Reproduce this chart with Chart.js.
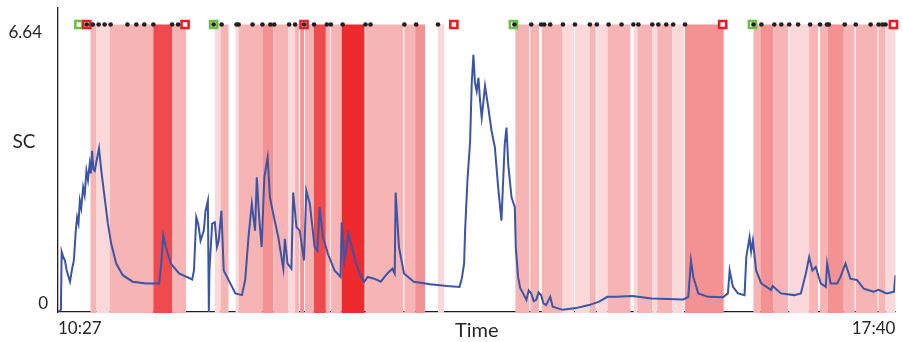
<!DOCTYPE html>
<html lang="en">

<head>
    <meta charset="UTF-8">
    <title>SC over time</title>
    <script src="https://cdn.jsdelivr.net/npm/chart.js"></script>
    <style>
        html, body {
            margin: 0;
            padding: 0;
            background: #fff;
        }

        #chart-box {
            width: 903px;
            height: 342px;
        }
    </style>
</head>

<body>
    <div id="chart-box"><canvas id="sc-chart"></canvas></div>

    <script>
        // minutes since 10:27 and the SC value
        const times = [0.2, 1.5, 1.9, 2.7, 3.6, 4.5, 6.2, 7.3, 8.2, 9.2, 9.9, 10.6, 11.3, 12.0, 13.0, 13.8, 14.7, 15.5, 16.4, 17.0, 17.6, 18.3, 19.0, 20.2, 21.2, 22.4,
            24.1, 25.8, 27.5, 30.1, 33.5, 38.6, 45.5, 52.3, 53.4, 54.4, 55.8, 58.3, 62.6, 69.4, 70.3, 71.5, 72.5, 73.7, 75.4, 76.3, 77.5, 78.0, 78.3,
            79.7, 81.1, 82.2, 83.1, 84.5, 85.7, 88.2, 91.7, 95.1, 96.8, 98.5, 100.2, 101.9, 102.8, 104.0, 105.3, 106.7, 108.4, 109.6, 111.3, 113.9,
            116.5, 117.3, 118.7, 120.7, 121.6, 123.3, 125.0, 127.2, 128.4, 130.2, 132.7, 134.1, 135.3, 137.0, 139.5, 143.0, 146.1, 146.7, 148.1,
            150.2, 151.5, 154.1, 156.6, 158.4, 160.1, 163.5, 166.9, 170.3, 172.9, 174.1, 174.6, 176.3, 178.9, 184.0, 192.5, 201.1, 207.6, 208.8,
            210.0, 210.5, 211.7, 213.1, 213.9, 214.8, 215.6, 216.5, 217.4, 218.2, 219.1, 220.8, 222.5, 224.2, 225.9, 227.6, 229.3, 231.0, 231.9,
            232.8, 234.5, 236.2, 236.7, 237.9, 239.0, 240.5, 242.2, 243.4, 244.7, 246.0, 247.3, 248.5, 249.8, 251.0, 252.4, 254.5, 255.8, 261.0,
            267.8, 274.6, 279.8, 284.1, 288.3, 296.9, 307.1, 323.4, 325.9, 327.3, 328.5, 331.1, 336.2, 343.9, 346.4, 347.3, 349.0, 351.6, 355.0,
            355.9, 357.6, 358.4, 359.3, 361.0, 363.6, 368.7, 369.5, 373.8, 380.7, 384.1, 386.7, 388.4, 390.1, 391.8, 394.4, 397.0, 397.7, 399.5,
            402.9, 404.6, 407.2, 409.7, 413.1, 416.6, 421.7, 424.3, 428.5, 432.3, 433.0];
        const sc = [0.01, 0.05, 1.39, 1.27, 1.19, 0.96, 0.70, 1.00, 1.19, 1.88, 2.19, 2.05, 2.57, 2.40, 2.88, 2.70, 3.26, 3.05, 3.42, 3.20, 3.72, 3.30, 3.26, 3.55, 3.78, 3.26,
            2.65, 2.04, 1.58, 1.12, 0.85, 0.70, 0.66, 0.66, 1.12, 1.77, 1.50, 1.12, 0.89, 0.75, 0.96, 2.19, 2.04, 1.65, 1.88, 2.34, 2.57, 0.00, 0.96,
            2.04, 2.07, 1.50, 1.65, 2.34, 0.96, 0.74, 0.43, 0.39, 0.74, 1.73, 2.50, 1.88, 3.11, 2.19, 1.50, 3.11, 3.57, 2.65, 2.27, 1.73,
            1.00, 1.69, 1.12, 1.00, 2.76, 1.96, 1.88, 1.19, 2.80, 2.50, 1.50, 1.42, 2.42, 1.73, 1.35, 0.96, 0.81, 2.07, 1.19,
            1.81, 1.58, 1.12, 0.81, 0.70, 0.81, 0.77, 0.70, 0.89, 1.00, 0.89, 2.76, 1.50, 0.89, 0.70, 0.64, 0.60, 0.58, 0.77,
            1.12, 1.88, 3.03, 3.95, 5.25, 5.94, 5.30, 5.10, 5.41, 4.90, 4.49, 5.22, 4.72, 4.18, 3.80, 2.88, 2.11, 3.88, 4.26,
            3.42, 2.65, 2.42, 1.50, 0.81, 0.55, 0.43, 0.28, 0.50, 0.43, 0.25, 0.28, 0.45, 0.39, 0.20, 0.16, 0.35, 0.12, 0.05,
            0.09, 0.16, 0.24, 0.35, 0.35, 0.37, 0.31, 0.29, 0.35, 1.19, 0.81, 0.43, 0.35, 0.34, 0.43, 0.96, 0.58, 0.43, 0.39,
            1.27, 1.73, 1.40, 1.65, 0.96, 0.66, 0.51, 0.60, 0.43, 0.39, 0.43, 0.89, 1.27, 0.96, 1.04, 0.66, 0.58, 1.12, 0.66,
            0.66, 0.81, 1.12, 0.77, 0.74, 0.54, 0.47, 0.51, 0.43, 0.47, 0.85];

        // shaded episodes: start, end (minutes) and intensity level 1..5
        const bandStart = [16.8, 19.9, 26.7, 49.3, 59.0, 81.1, 84.1, 91.8, 93.4, 105.7, 111.3, 119.0, 122.6, 125.2, 127.7, 132.3, 138.5, 141.1, 146.7,
            159.0, 179.1, 184.7, 196.5, 236.5, 244.2, 250.1, 260.6, 267.3, 275.0, 278.6, 284.2, 297.6, 299.6, 307.3, 309.9, 317.6, 324.2,
            359.6, 363.2, 369.9, 378.1, 388.4, 394.0, 398.1, 406.3, 412.5, 424.3, 427.9];
        const bandEnd = [19.9, 26.7, 49.3, 59.0, 66.2, 84.1, 88.2, 93.4, 105.7, 111.3, 119.0, 122.6, 124.7, 127.2, 132.3, 138.5, 140.6, 146.7, 158.5,
            178.5, 184.7, 189.8, 199.6, 243.7, 248.8, 260.6, 266.8, 275.0, 278.1, 284.2, 296.0, 299.6, 307.3, 309.9, 317.6, 323.7, 344.2,
            363.2, 369.9, 377.6, 388.4, 393.0, 398.1, 406.3, 411.9, 423.8, 427.9, 433.0];
        const bandLevel = [2, 1, 2, 4, 2, 1, 2, 1, 2, 3, 2, 1, 2, 3, 2, 4, 2, 2, 5,
            2, 2, 3, 1, 2, 2, 2, 1, 1, 2, 1, 2, 1, 2, 1, 2, 1, 3,
            2, 3, 2, 1, 2, 2, 3, 2, 2, 2, 1];

        // event markers along the top
        const dotTimes = [14.9, 18.0, 21.0, 24.1, 27.2, 35.9, 40.5, 44.6, 49.3, 59.0, 62.1, 80.5, 84.6, 92.3, 93.4, 100.6, 105.7, 109.8, 111.8,
            119.5, 122.6, 127.2, 132.4, 139.0, 141.1, 147.2, 159.0, 161.6, 179.1, 185.2, 196.5, 236.0, 244.7, 249.8, 251.4, 254.5, 261.1,
            267.3, 275.0, 278.6, 284.7, 291.4, 297.5, 300.1, 307.3, 310.4, 314.5, 318.1, 324.2, 359.6, 363.7, 370.4, 374.0, 378.1, 382.7,
            388.9, 394.0, 397.6, 398.6, 406.8, 412.5, 420.2, 424.3, 426.3, 427.9];
        const startTimes = [10.8, 80.5, 235.5, 359.1];
        const endTimes = [14.9, 65.7, 127.2, 204.7, 343.7, 432.0];
        const markerLevel = 6.64;

        // axis ticks
        const xTickValues = [0, 433];
        const xTickLabels = ['10:27', '17:40'];
        const yTickValues = [0, 6.64];
        const yTickLabels = ['0', '6.64'];

        const bandColors = ['#ffffff', '#fbd9da', '#f7b4b5', '#f49192', '#ef4b4e', '#ee2a2f'];
        const fontName = 'Lato, "Open Sans", sans-serif';

        const bandsPlugin = {
            id: 'bands',
            beforeDatasetsDraw: (chart) => {
                const { ctx, scales } = chart;
                const top = scales.y.getPixelForValue(markerLevel);
                const bottom = scales.y.getPixelForValue(0) + 1;
                ctx.save();
                for (let i = 0; i < bandStart.length; i++) {
                    const x0 = scales.x.getPixelForValue(bandStart[i]);
                    const x1 = scales.x.getPixelForValue(bandEnd[i]);
                    ctx.fillStyle = bandColors[bandLevel[i]];
                    ctx.fillRect(x0, top, x1 - x0, bottom - top);
                }
                ctx.restore();
            }
        };

        const axisTextPlugin = {
            id: 'axisText',
            afterDraw: (chart) => {
                const { ctx, scales, chartArea } = chart;
                ctx.save();
                ctx.fillStyle = '#262626';
                ctx.textBaseline = 'middle';
                // y tick labels sit just inside their tick positions
                const rightEdge = [48, 42];
                const shift = [-8.5, 8];
                ctx.font = '17px ' + fontName;
                ctx.textAlign = 'right';
                yTickValues.forEach((v, i) => {
                    ctx.fillText(yTickLabels[i], rightEdge[i], scales.y.getPixelForValue(v) + shift[i]);
                });
                ctx.font = '19px ' + fontName;
                ctx.textAlign = 'center';
                ctx.fillText('SC', 24, 142);
                ctx.font = '20px ' + fontName;
                ctx.fillText('Time', (chartArea.left + chartArea.right) / 2, 331);
                ctx.restore();
            }
        };

        const pts = (xs, ys) => xs.map((x, i) => ({ x: x, y: Array.isArray(ys) ? ys[i] : ys }));

        const ctx = document.getElementById('sc-chart').getContext('2d');
        const chart = new Chart(ctx, {
            type: 'line',
            data: {
                datasets: [{
                    label: 'events',
                    data: pts(dotTimes, markerLevel),
                    showLine: false,
                    pointStyle: 'circle',
                    pointRadius: 2.3,
                    pointBackgroundColor: '#231f20',
                    pointBorderWidth: 0,
                    clip: false,
                    order: 0
                }, {
                    label: 'start',
                    data: pts(startTimes, markerLevel),
                    showLine: false,
                    pointStyle: 'rect',
                    pointRadius: 5,
                    pointBackgroundColor: '#ffffff',
                    pointBorderColor: '#6cbd45',
                    pointBorderWidth: 2.6,
                    clip: false,
                    order: 2
                }, {
                    label: 'end',
                    data: pts(endTimes, markerLevel),
                    showLine: false,
                    pointStyle: 'rect',
                    pointRadius: 5,
                    pointBackgroundColor: '#ffffff',
                    pointBorderColor: '#ed1c24',
                    pointBorderWidth: 2.6,
                    clip: false,
                    order: 1
                }, {
                    label: 'SC',
                    data: pts(times, sc),
                    borderColor: '#3b55a6',
                    borderWidth: 2,
                    pointRadius: 0,
                    tension: 0,
                    order: 3
                }]
            },
            plugins: [bandsPlugin, axisTextPlugin],
            options: {
                responsive: true,
                maintainAspectRatio: false,
                animation: false,
                events: [],
                layout: {
                    padding: { top: 6, right: 1, left: 0, bottom: 0 }
                },
                plugins: {
                    legend: { display: false },
                    tooltip: { enabled: false }
                },
                scales: {
                    x: {
                        type: 'linear',
                        min: 0,
                        max: 433,
                        grid: { display: false, drawTicks: false },
                        border: { display: true, color: '#231f20', width: 1.3 },
                        afterBuildTicks: (scale) => {
                            scale.ticks = xTickValues.map(v => ({ value: v }));
                        },
                        afterFit: (scale) => { scale.height = 30; },
                        ticks: {
                            align: 'inner',
                            maxRotation: 0,
                            padding: 6,
                            color: '#262626',
                            font: { family: fontName, size: 17 },
                            callback: (value) => xTickLabels[xTickValues.indexOf(value)]
                        }
                    },
                    y: {
                        min: 0,
                        max: 7.03,
                        grid: { display: false, drawTicks: false },
                        border: { display: true, color: '#231f20', width: 1.3 },
                        ticks: { display: false },
                        afterFit: (scale) => { scale.width = 58; }
                    }
                }
            }
        });
    </script>
</body>

</html>
